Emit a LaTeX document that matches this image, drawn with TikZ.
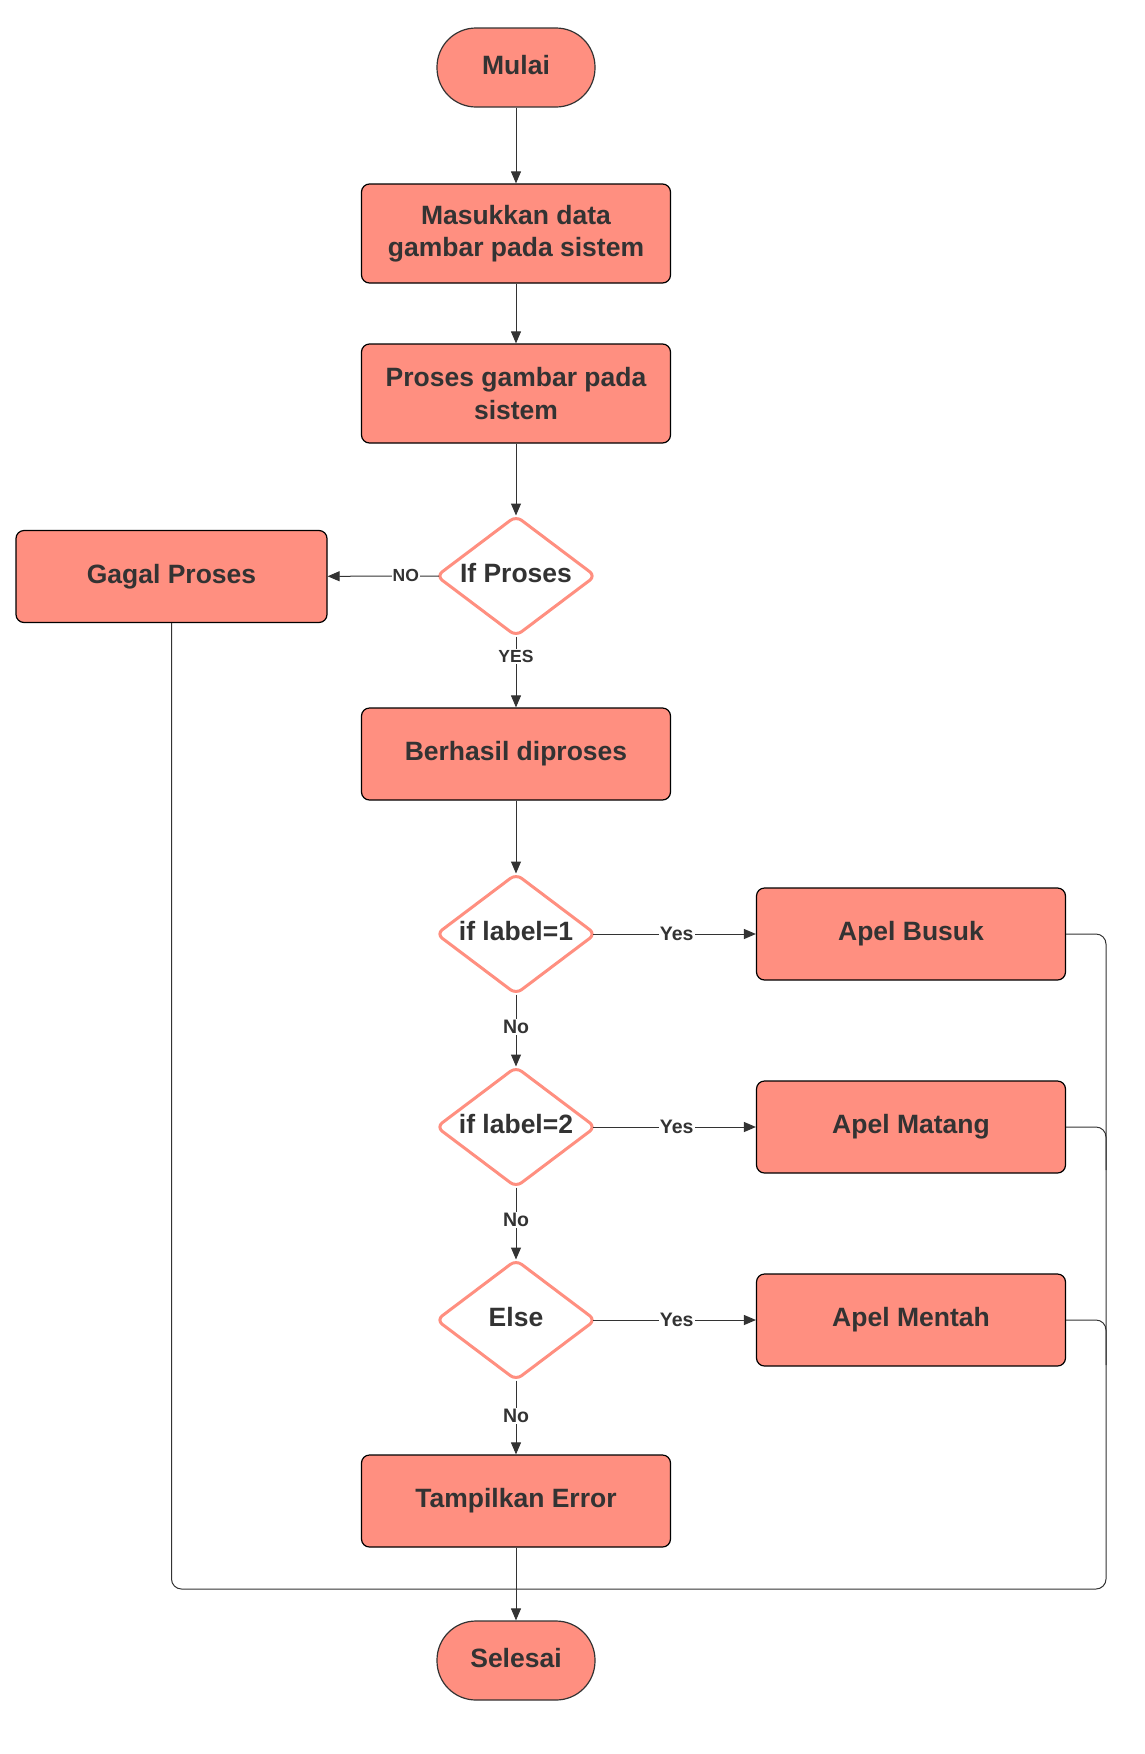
\documentclass[tikz,border=0pt]{standalone}
\usepackage{fontspec}
\setmainfont{Liberation Sans}
\usetikzlibrary{arrows.meta,shapes.geometric}
\definecolor{salmon}{HTML}{FF8F80}
\definecolor{ink}{HTML}{333333}
\begin{document}
\begin{tikzpicture}[x=1pt,y=-1pt,
  every node/.style={text=ink, font=\bfseries\fontsize{26.5}{32.5}\selectfont},
  box/.style={draw=black, line width=1.2pt, fill=salmon, rounded corners=8pt, minimum width=309pt, minimum height=#1, align=center, inner sep=0pt},
  term/.style={draw=black!80, line width=1.2pt, fill=salmon, rounded corners=39pt, minimum width=158pt, minimum height=79pt, inner sep=0pt, text height=19pt, text depth=6pt},
  dec/.style={diamond, draw=salmon, line width=3pt, fill=white, rounded corners=7pt, minimum width=160pt, minimum height=121pt, inner sep=0pt, aspect=1.33, text height=19pt, text depth=6pt},
  conn/.style={draw=ink, line width=1pt},
  arr/.style={conn, -{Triangle[length=12pt,width=10pt]}},
  hout/.style={shorten <=-4.5pt},
  vout/.style={shorten <=-1.5pt},
  vin/.style={shorten >=-1.5pt},
  lab/.style={fill=white, inner sep=1pt, text height=13pt, text depth=1pt, font=\bfseries\fontsize{19.5}{19.5}\selectfont},
  labc/.style={fill=white, inner sep=1pt, text height=12pt, text depth=1pt, font=\bfseries\fontsize{17.5}{17.5}\selectfont},
]
\useasboundingbox[fill=white] (0,0) rectangle (1144,1754);

\node[term] (start) at (516,67.5) {Mulai};
\node[box=99pt] (input) at (516,233.5) {Masukkan data\\gambar pada sistem};
\node[box=99pt] (proc) at (516,393.5) {Proses gambar pada\\sistem};
\node[dec] (d1) at (516,576) {\makebox[0pt]{If Proses}};
\node[box=92pt, minimum width=311pt] (fail) at (171.5,576.5) {Gagal Proses};
\node[box=92pt] (ok) at (516,754) {Berhasil diproses};
\node[dec] (d2) at (516,934) {\makebox[0pt]{if label=1}};
\node[box=92pt] (busuk) at (911,934) {Apel Busuk};
\node[dec] (d3) at (516,1127) {\makebox[0pt]{if label=2}};
\node[box=92pt] (matang) at (911,1127) {Apel Matang};
\node[dec] (d4) at (516,1320) {\makebox[0pt]{Else}};
\node[box=92pt] (mentah) at (911,1320) {Apel Mentah};
\node[box=92pt] (err) at (516,1501) {Tampilkan Error};
\node[term] (end) at (516,1660.5) {Selesai};

\coordinate (br) at (1106,1589);
\coordinate (bl) at (171.5,1589);
\coordinate (j2) at (1106,1170);
\coordinate (j3) at (1106,1365);

\draw[conn, rounded corners=10pt] (busuk.east) -| (br) -- (bl) -- (fail.south);
\draw[conn, rounded corners=10pt] (matang.east) -| (j2);
\draw[conn, rounded corners=10pt] (mentah.east) -| (j3);

\draw[arr] (start) -- (input);
\draw[arr] (input) -- (proc);
\draw[arr, vin] (proc) -- (d1);
\draw[arr, hout] (d1) -- node[labc, pos=0.27]{NO} (fail);
\draw[arr, vout] (d1) -- node[labc, pos=0.27]{YES} (ok);
\draw[arr, vin] (ok) -- (d2);
\draw[arr, hout] (d2) -- node[lab]{Yes} (busuk);
\draw[arr, vout, vin] (d2) -- node[lab, pos=0.45]{No} (d3);
\draw[arr, hout] (d3) -- node[lab]{Yes} (matang);
\draw[arr, vout, vin] (d3) -- node[lab, pos=0.45]{No} (d4);
\draw[arr, hout] (d4) -- node[lab]{Yes} (mentah);
\draw[arr, vout] (d4) -- node[lab, pos=0.47]{No} (err);
\draw[arr] (err) -- (end);
\end{tikzpicture}
\end{document}
